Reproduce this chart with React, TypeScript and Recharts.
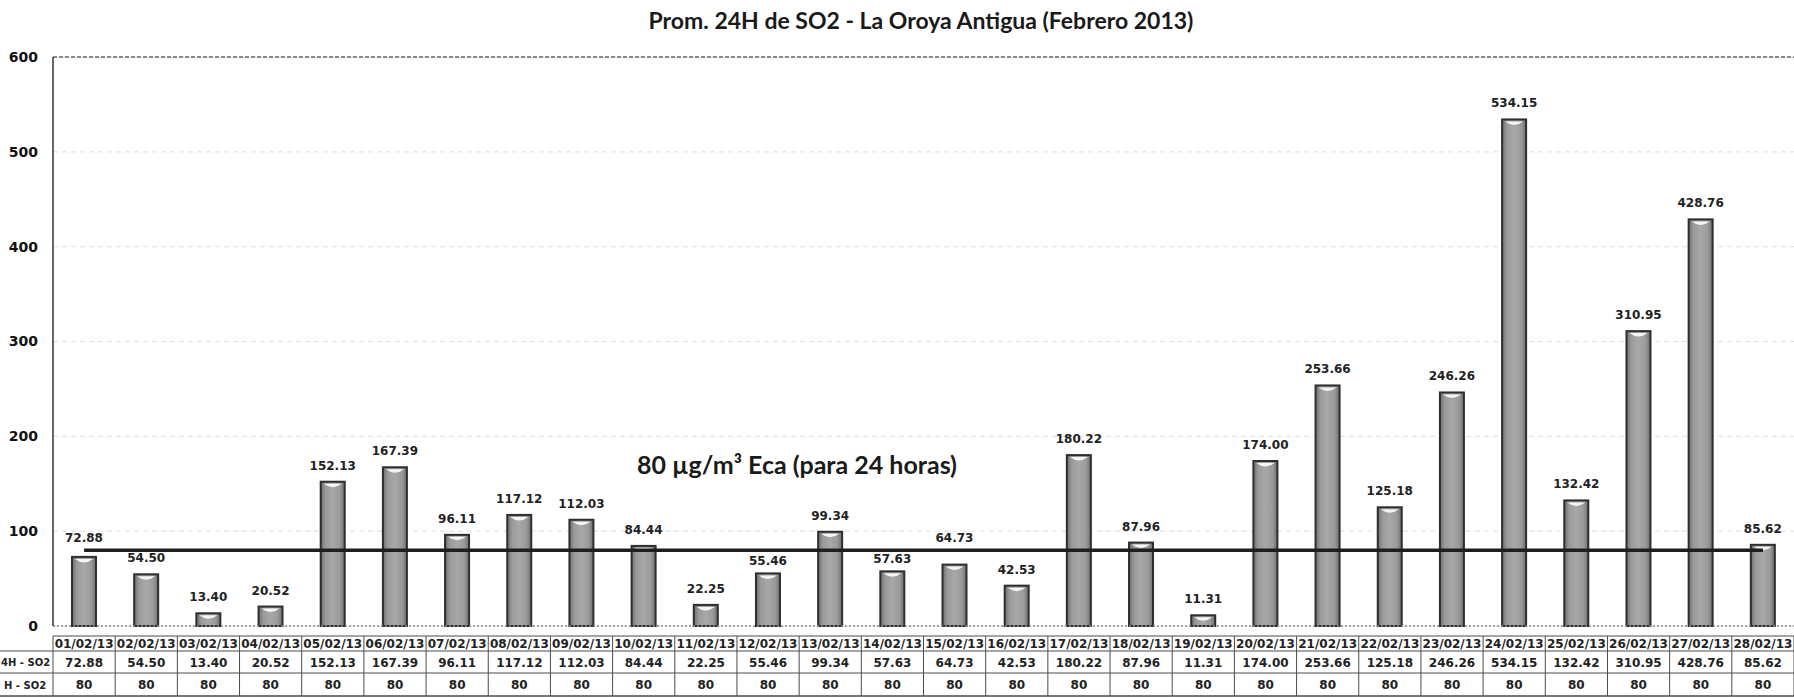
import React from "react";
import {
  ComposedChart,
  Bar,
  Line,
  XAxis,
  YAxis,
  CartesianGrid,
  LabelList,
  ReferenceLine,
} from "recharts";

// ---------- data ----------
const dates = [
  "01/02/13", "02/02/13", "03/02/13", "04/02/13", "05/02/13", "06/02/13", "07/02/13",
  "08/02/13", "09/02/13", "10/02/13", "11/02/13", "12/02/13", "13/02/13", "14/02/13",
  "15/02/13", "16/02/13", "17/02/13", "18/02/13", "19/02/13", "20/02/13", "21/02/13",
  "22/02/13", "23/02/13", "24/02/13", "25/02/13", "26/02/13", "27/02/13", "28/02/13",
];
const so2Values = [
  72.88, 54.5, 13.4, 20.52, 152.13, 167.39, 96.11,
  117.12, 112.03, 84.44, 22.25, 55.46, 99.34, 57.63,
  64.73, 42.53, 180.22, 87.96, 11.31, 174.0, 253.66,
  125.18, 246.26, 534.15, 132.42, 310.95, 428.76, 85.62,
];
const ecaValues = [
  80, 80, 80, 80, 80, 80, 80, 80, 80, 80, 80, 80, 80, 80,
  80, 80, 80, 80, 80, 80, 80, 80, 80, 80, 80, 80, 80, 80,
];
const yTicks = [0, 100, 200, 300, 400, 500, 600];
const rowLabels = ["4H - SO2", "H - SO2"];
const title = "Prom. 24H de SO2 - La Oroya Antigua (Febrero 2013)";
const ecaLabel = "80 \u00b5g/m\u00b3 Eca (para 24 horas)";

const data = dates.map((d, i) => ({ date: d, so2: so2Values[i], eca: ecaValues[i] }));

// ---------- layout ----------
const CHART_W = 1794;
const CHART_H = 698;
const Y_AXIS_W = 53;
const X_AXIS_H = 72;
const COL_W = (CHART_W - Y_AXIS_W) / dates.length;
const FONT = "'DejaVu Sans', Verdana, sans-serif";
const LINE_C = "#4a4a4a";

const TableTick = (props: any) => {
  const { x, y, payload, index } = props;
  const left = x - COL_W / 2;
  const right = x + COL_W / 2;
  const r0 = y + 10;
  const r1 = y + 25;
  const r2 = y + 47;
  const r3 = y + 70;
  const isLast = index === dates.length - 1;
  const i = index as number;
  return (
    <g>
      <line x1={left} y1={r0} x2={left} y2={r3} stroke={LINE_C} strokeWidth={1} />
      {isLast && <line x1={right} y1={r0} x2={right} y2={r3} stroke={LINE_C} strokeWidth={1} />}
      <line x1={left} y1={r0} x2={right} y2={r0} stroke={LINE_C} strokeWidth={1} />
      <line x1={left} y1={r1} x2={right} y2={r1} stroke={LINE_C} strokeWidth={1} />
      <line x1={left} y1={r2} x2={right} y2={r2} stroke={LINE_C} strokeWidth={1} />
      <line x1={left} y1={r3} x2={right} y2={r3} stroke={LINE_C} strokeWidth={1.5} />
      {i === 0 && (
        <g>
          <line x1={0} y1={r1} x2={left} y2={r1} stroke={LINE_C} strokeWidth={1} />
          <line x1={0} y1={r2} x2={left} y2={r2} stroke={LINE_C} strokeWidth={1} />
          <line x1={0} y1={r3} x2={left} y2={r3} stroke={LINE_C} strokeWidth={1.5} />
          <text x={1} y={(r1 + r2) / 2 + 4} textAnchor="start" fontFamily={FONT} fontWeight="bold" fontSize={10} fill="#222">
            {rowLabels[0]}
          </text>
          <text x={4} y={(r2 + r3) / 2 + 4} textAnchor="start" fontFamily={FONT} fontWeight="bold" fontSize={10} fill="#222">
            {rowLabels[1]}
          </text>
        </g>
      )}
      <text x={x} y={(r0 + r1) / 2 + 4.5} textAnchor="middle" fontFamily={FONT} fontWeight="bold" fontSize={12} fill="#222">
        {payload.value}
      </text>
      <text x={x} y={(r1 + r2) / 2 + 4.5} textAnchor="middle" fontFamily={FONT} fontWeight="bold" fontSize={12} fill="#222">
        {so2Values[i].toFixed(2)}
      </text>
      <text x={x} y={(r2 + r3) / 2 + 4.5} textAnchor="middle" fontFamily={FONT} fontWeight="bold" fontSize={12} fill="#222">
        {ecaValues[i]}
      </text>
    </g>
  );
};

const BarShape = (props: any) => {
  const { x, y, width, height } = props;
  if (height <= 0) return null;
  const hlH = Math.min(5, height / 2);
  return (
    <g>
      <rect x={x} y={y} width={width} height={height} fill="url(#barGrad)" stroke="#2e2e2e" strokeWidth={2} />
      <path
        d={`M ${x + 3} ${y + 2} L ${x + width - 3} ${y + 2} Q ${x + width / 2} ${y + 2 + hlH * 1.4} ${x + 3} ${y + 2} Z`}
        fill="#f4f4f4"
      />
    </g>
  );
};

// Value label: placed above the bar, nudged clear of the ECA line when they would collide.
const BarLabel = (props: any) => {
  const vb = props.viewBox || {};
  const x = vb.x ?? props.x;
  const y = vb.y ?? props.y;
  const width = vb.width ?? props.width;
  const height = vb.height ?? props.height;
  const value = Number(props.value);
  if (!(value > 0) || !(height > 0)) return null;
  const base = y + height;
  const lineY = base - (80 * height) / value;
  let baseline = y - 12;
  if (value >= 60 && value < 80) {
    baseline = lineY - 8;
  } else if (value < 80 && baseline - 10 < lineY + 2) {
    baseline = y - 8;
  }
  return (
    <text
      x={x + width / 2}
      y={baseline}
      textAnchor="middle"
      fontFamily={FONT}
      fontWeight="bold"
      fontSize={12}
      fill="#222"
    >
      {value.toFixed(2)}
    </text>
  );
};

export default function App() {
  return (
    <div style={{ position: "fixed", left: 0, top: 0, width: CHART_W, height: CHART_H, background: "#fff" }}>
      <div
        style={{
          position: "absolute",
          left: 0,
          top: 6,
          width: 1842,
          textAlign: "center",
          fontFamily: "Lato, 'Open Sans', sans-serif",
          fontWeight: 700,
          fontSize: 23,
          color: "#1a1a1a",
          whiteSpace: "nowrap",
        }}
      >
        {title}
      </div>
      <div
        style={{
          position: "absolute",
          left: 0,
          top: 449,
          width: 1594,
          textAlign: "center",
          fontFamily: "Lato, 'Open Sans', sans-serif",
          fontWeight: 700,
          fontSize: 25,
          color: "#1a1a1a",
          whiteSpace: "nowrap",
        }}
      >
        {ecaLabel}
      </div>
      <ComposedChart
        width={CHART_W}
        height={CHART_H}
        data={data}
        margin={{ top: 57, right: 0, bottom: 0, left: 0 }}
        barCategoryGap="31%"
      >
        <defs>
          <linearGradient id="barGrad" x1="0" y1="0" x2="1" y2="0">
            <stop offset="0%" stopColor="#6e6e6e" />
            <stop offset="20%" stopColor="#9a9a9a" />
            <stop offset="50%" stopColor="#a8a8a8" />
            <stop offset="80%" stopColor="#9a9a9a" />
            <stop offset="100%" stopColor="#6e6e6e" />
          </linearGradient>
        </defs>
        <CartesianGrid vertical={false} stroke="#dedede" strokeDasharray="5 4" />
        <ReferenceLine y={600} stroke="#666" strokeDasharray="4 2" strokeWidth={1.3} />
        <XAxis
          dataKey="date"
          height={X_AXIS_H}
          interval={0}
          tickLine={false}
          tickSize={0}
          tickMargin={0}
          axisLine={{ stroke: "#888", strokeDasharray: "2 2", strokeWidth: 1.5 }}
          tick={<TableTick />}
        />
        <YAxis
          width={Y_AXIS_W}
          domain={[0, 600]}
          ticks={yTicks}
          interval={0}
          tickLine={false}
          tickSize={0}
          tickMargin={15}
          axisLine={{ stroke: "#333", strokeWidth: 1.5 }}
          tick={{ fontFamily: FONT, fontWeight: "bold", fontSize: 14, fill: "#111" }}
        />
        <Bar dataKey="so2" barSize={24} shape={<BarShape />} isAnimationActive={false}>
          <LabelList dataKey="so2" content={<BarLabel />} />
        </Bar>
        <Line dataKey="eca" stroke="#1e1e1e" strokeWidth={3.5} dot={false} activeDot={false} isAnimationActive={false} />
      </ComposedChart>
    </div>
  );
}
